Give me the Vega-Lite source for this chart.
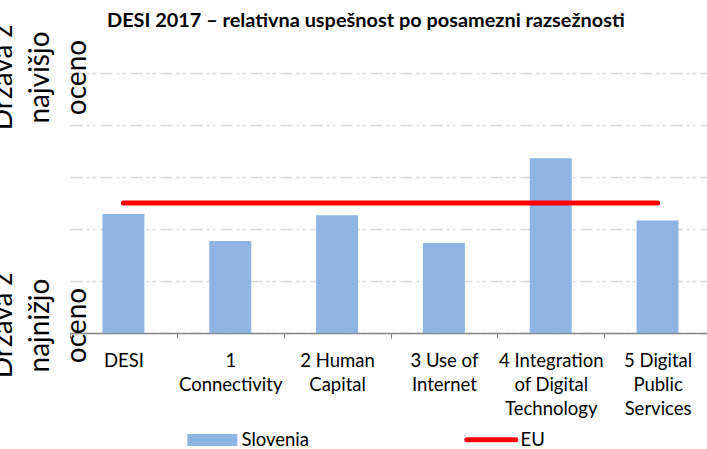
{
  "$schema": "https://vega.github.io/schema/vega-lite/v6.json",
  "width": 637,
  "height": 260,
  "autosize": "none",
  "padding": {"left": 70, "top": 73, "right": 0, "bottom": 116},
  "background": "white",
  "title": {
    "text": "DESI 2017 – relativna uspešnost po posamezni razsežnosti",
    "anchor": "start",
    "frame": "group",
    "dx": 37,
    "offset": -23,
    "baseline": "alphabetic",
    "font": "Lato",
    "fontSize": 19.9,
    "fontWeight": "bold",
    "color": "#000000"
  },
  "config": {"view": {"stroke": null}, "font": "Lato"},
  "data": {
    "values": [
      {"dimension": "DESI", "Slovenia": 0.458, "EU": 0.5},
      {"dimension": "1 Connectivity", "Slovenia": 0.354, "EU": 0.5},
      {"dimension": "2 Human Capital", "Slovenia": 0.453, "EU": 0.5},
      {"dimension": "3 Use of Internet", "Slovenia": 0.346, "EU": 0.5},
      {"dimension": "4 Integration of Digital Technology", "Slovenia": 0.672, "EU": 0.5},
      {"dimension": "5 Digital Public Services", "Slovenia": 0.433, "EU": 0.5}
    ]
  },
  "encoding": {
    "x": {
      "field": "dimension",
      "type": "nominal",
      "sort": null,
      "scale": {"range": [0, 641], "paddingInner": 0, "paddingOuter": 0},
      "axis": {
        "title": null,
        "labelAngle": 0,
        "tickBand": "extent",
        "domainColor": "#868686",
        "domainWidth": 1.5,
        "tickColor": "#868686",
        "tickSize": 5,
        "tickWidth": 1,
        "labelFont": "Lato",
        "labelFontSize": 18.5,
        "labelColor": "#000000",
        "labelBaseline": "top",
        "labelLineHeight": 24,
        "labelPadding": 13,
        "labelLimit": 0,
        "labelOverlap": false,
        "labelExpr": "datum.label == '1 Connectivity' ? ['1','Connectivity'] : datum.label == '2 Human Capital' ? ['2 Human','Capital'] : datum.label == '3 Use of Internet' ? ['3 Use of','Internet'] : datum.label == '4 Integration of Digital Technology' ? ['4 Integration','of Digital','Technology'] : datum.label == '5 Digital Public Services' ? ['5 Digital','Public','Services'] : datum.label"
      }
    }
  },
  "layer": [
    {
      "mark": {"type": "bar", "width": {"band": 0.393}},
      "encoding": {
        "y": {
          "field": "Slovenia",
          "type": "quantitative",
          "scale": {"domain": [0, 1]},
          "axis": {
            "title": null,
            "values": [0, 0.2, 0.4, 0.6, 0.8, 1],
            "domain": false,
            "ticks": false,
            "tickSize": 0,
            "grid": true,
            "gridColor": "#d9d9d9",
            "gridWidth": 1.5,
            "gridDash": [12, 4, 3, 3, 3, 5],
            "labelExpr": "datum.value == 1 ? ['Država z','najvišjo','oceno'] : datum.value == 0 ? ['Država z','najnižjo','oceno'] : ''",
            "labelAngle": 270,
            "labelAlign": "center",
            "labelBaseline": "bottom",
            "labelFont": "Lato",
            "labelFontSize": 28,
            "labelLineHeight": 37,
            "labelColor": "#000000",
            "labelPadding": 53,
            "labelOffset": {"condition": {"test": "datum.value == 0", "value": -8}, "value": 4},
            "labelOverlap": false,
            "labelFlush": false,
            "labelBound": false
          }
        },
        "color": {
          "datum": "Slovenia",
          "scale": {"domain": ["Slovenia", "EU"], "range": ["#8eb4e3", "#ff0000"]},
          "legend": {
            "orient": "none",
            "legendX": 133,
            "legendY": 357,
            "direction": "horizontal",
            "columns": 2,
            "title": null,
            "symbolType": "M-1,-0.24H1V0.24H-1Z",
            "symbolSize": 2500,
            "labelFont": "Lato",
            "labelFontSize": 18.5,
            "labelColor": "#000000",
            "labelOffset": 20,
            "columnPadding": 147,
            "encode": {
              "symbols": {
                "update": {
                  "shape": {"signal": "datum.value === 'EU' ? 'M-1,0H1' : 'M-1,-0.24H1V0.24H-1Z'"},
                  "fill": {"signal": "datum.value === 'EU' ? 'transparent' : '#8eb4e3'"},
                  "stroke": {"signal": "datum.value === 'EU' ? '#ff0000' : 'transparent'"},
                  "strokeWidth": {"signal": "datum.value === 'EU' ? 5 : 0"},
                  "strokeCap": {"value": "round"},
                  "opacity": {"value": 1},
                  "size": {"signal": "datum.value === 'EU' ? 2401 : 2500"}
                }
              }
            }
          }
        }
      }
    },
    {
      "mark": {"type": "line", "strokeWidth": 5, "strokeCap": "round"},
      "encoding": {
        "y": {"field": "EU", "type": "quantitative"},
        "color": {"datum": "EU"}
      }
    }
  ]
}
